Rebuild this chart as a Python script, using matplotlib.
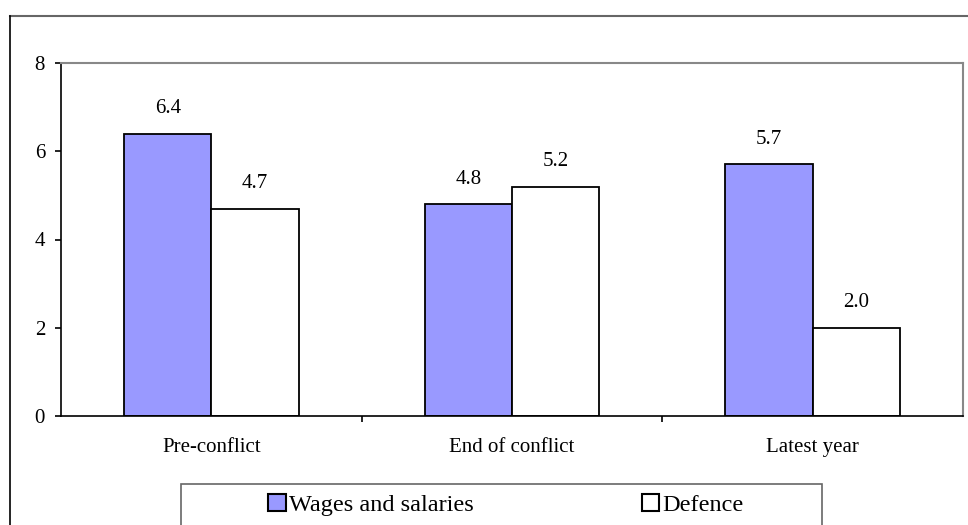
import matplotlib
matplotlib.use("Agg")
import matplotlib.pyplot as plt
import numpy as np
from matplotlib.lines import Line2D
from matplotlib.patches import Rectangle

categories = ["Pre-conflict", "End of conflict", "Latest year"]
wages = [6.4, 4.8, 5.7]
defence = [4.7, 5.2, 2.0]
series_names = ["Wages and salaries", "Defence"]

plt.rcParams['font.family'] = ['Liberation Serif', 'DejaVu Serif']

fig = plt.figure(figsize=(9.68, 5.25), dpi=100)
ax = fig.add_axes([61/968, 1-416/525, (963-61)/968, (416-63)/525])

x = np.arange(len(categories))
w = 0.29
b1 = ax.bar(x - w/2, wages, w, color="#9999FF", edgecolor="black", linewidth=1.3, label=series_names[0])
b2 = ax.bar(x + w/2, defence, w, color="white", edgecolor="black", linewidth=1.3, label=series_names[1])

for rects, vals in ((b1, wages), (b2, defence)):
    for r, v in zip(rects, vals):
        ax.annotate(f"{v:.1f}", (r.get_x() + r.get_width()/2, v), xytext=(0, 14.8),
                    textcoords="offset points", ha="center", va="baseline", fontsize=15)

ax.set_xlim(-0.5, 2.5)
ax.set_ylim(0, 8)
ax.set_yticks([0, 2, 4, 6, 8])
ax.set_xticks([0.5, 1.5])
ax.set_xticklabels([])
ax.set_xticks(x, minor=True)
ax.set_xticklabels(categories, minor=True)
ax.tick_params(axis='x', which='minor', length=0, pad=16, labelsize=15)
ax.tick_params(axis='x', which='major', length=4.5, direction='out', width=1.2)
ax.tick_params(axis='y', length=4.5, direction='out', width=1.2, labelsize=15, pad=7)
for s in ('top', 'right'):
    ax.spines[s].set_color('#888888')
    ax.spines[s].set_linewidth(1.5)
for s in ('left', 'bottom'):
    ax.spines[s].set_color('black')
    ax.spines[s].set_linewidth(1.2)

# outer chart frame (top and left)
fig.add_artist(Line2D([10/968, 1], [1-16/525, 1-16/525], color='#666666', linewidth=1.5, transform=fig.transFigure))
fig.add_artist(Line2D([10/968, 10/968], [0, 1-16/525], color='black', linewidth=1.2, transform=fig.transFigure))

# legend frame
fig.add_artist(Rectangle((181/968, -0.01), (822-181)/968, 1-484/525 + 0.01, transform=fig.transFigure,
                         facecolor='white', edgecolor='#666666', linewidth=1.2))

leg = fig.legend(handles=[b1, b2], labels=series_names, ncol=2,
                 loc='center', bbox_to_anchor=(506/968, 1-505/525),
                 fontsize=17.5, frameon=False,
                 handlelength=0.7, handleheight=0.7, handletextpad=0.15,
                 columnspacing=6.9, borderpad=0, borderaxespad=0)
for h in leg.legend_handles:
    h.set_linewidth(1.5)

fig.savefig("out.png", dpi=100)
